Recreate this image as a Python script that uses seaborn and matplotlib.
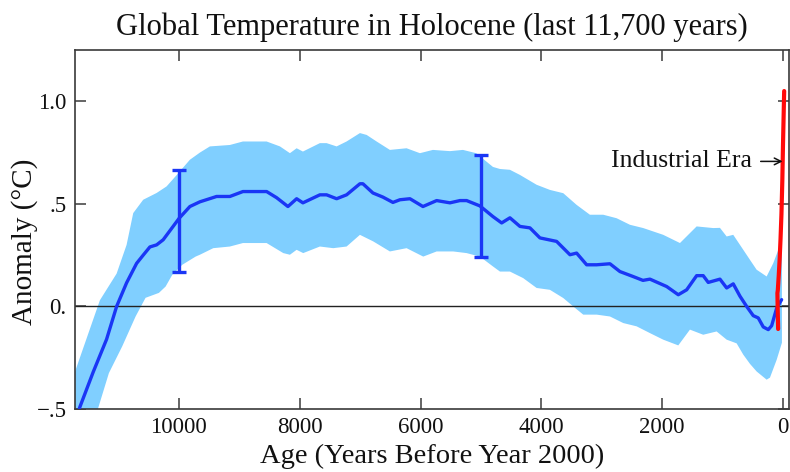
import numpy as np
import pandas as pd
import matplotlib
matplotlib.use("Agg")
import matplotlib.pyplot as plt
import seaborn as sns

# Mean Holocene temperature reconstruction (years before 2000, anomaly in °C)
mean_years = [11700, 11639, 11419, 11197, 11031, 10866, 10700, 10591, 10480, 10369,
              10260, 9995, 9818, 9652, 9376, 9156, 8940, 8548, 8382, 8195,
              8051, 7947, 7666, 7555, 7389, 7224, 7003, 6954, 6788, 6623,
              6457, 6341, 6175, 5960, 5733, 5513, 5348, 5237, 5017, 4801,
              4657, 4520, 4354, 4189, 4023, 3747, 3526, 3416, 3250, 3084,
              2864, 2699, 2483, 2318, 2202, 1925, 1733, 1594, 1429, 1320,
              1237, 1043, 932, 823, 712, 601, 492, 409, 326, 243,
              187, 104, 22]
mean_anom = [-0.55, -0.49, -0.32, -0.16, 0.00, 0.115, 0.21, 0.25, 0.29, 0.30,
             0.325, 0.43, 0.487, 0.51, 0.536, 0.536, 0.56, 0.56, 0.53, 0.487,
             0.525, 0.505, 0.544, 0.544, 0.525, 0.544, 0.598, 0.598, 0.553, 0.533,
             0.507, 0.52, 0.525, 0.487, 0.516, 0.505, 0.516, 0.516, 0.49, 0.438,
             0.407, 0.432, 0.39, 0.383, 0.334, 0.317, 0.252, 0.26, 0.203, 0.203,
             0.208, 0.17, 0.146, 0.127, 0.133, 0.097, 0.057, 0.081, 0.15, 0.15,
             0.117, 0.133, 0.09, 0.11, 0.05, 0.0, -0.045, -0.056, -0.10, -0.113,
             -0.094, -0.008, 0.033]

# Upper edge of the uncertainty envelope
upper_years = [11722, 11308, 11031, 10866, 10756, 10591, 10369, 10204, 10038, 9818,
               9652, 9487, 9156, 8940, 8548, 8327, 8162, 8051, 7947, 7666,
               7555, 7389, 7224, 7003, 6892, 6727, 6507, 6231, 6010, 5795,
               5513, 5298, 5078, 4801, 4685, 4520, 4354, 4078, 3858, 3637,
               3416, 3196, 2975, 2754, 2533, 2313, 1982, 1705, 1429, 1154,
               1043, 932, 823, 657, 546, 436, 270, 160, 77, 17]
upper_anom = [-0.32, 0.03, 0.16, 0.30, 0.455, 0.52, 0.553, 0.585, 0.64, 0.715,
              0.75, 0.78, 0.787, 0.804, 0.804, 0.78, 0.747, 0.771, 0.755, 0.796,
              0.796, 0.78, 0.804, 0.845, 0.836, 0.804, 0.763, 0.771, 0.747, 0.763,
              0.757, 0.763, 0.747, 0.68, 0.67, 0.666, 0.641, 0.593, 0.568, 0.552,
              0.495, 0.447, 0.447, 0.43, 0.398, 0.382, 0.349, 0.309, 0.39, 0.382,
              0.383, 0.341, 0.349, 0.276, 0.227, 0.179, 0.146, 0.211, 0.276, 0.30]

# Lower edge of the uncertainty envelope
lower_years = [11722, 11341, 11159, 10939, 10717, 10552, 10331, 10220, 10110, 9944,
               9723, 9652, 9431, 9156, 8940, 8548, 8272, 8162, 8051, 7942,
               7666, 7445, 7224, 7003, 6783, 6507, 6231, 5955, 5733, 5459,
               5237, 5017, 4801, 4685, 4520, 4300, 4078, 3858, 3637, 3472,
               3306, 3084, 2864, 2644, 2423, 2202, 1982, 1733, 1540, 1320,
               1098, 932, 767, 657, 546, 436, 270, 215, 104, 17]
lower_anom = [-0.80, -0.50, -0.325, -0.195, -0.049, 0.042, 0.066, 0.097, 0.154, 0.203,
              0.243, 0.252, 0.284, 0.292, 0.309, 0.309, 0.26, 0.252, 0.276, 0.26,
              0.292, 0.284, 0.292, 0.349, 0.317, 0.268, 0.284, 0.243, 0.268, 0.268,
              0.26, 0.243, 0.195, 0.17, 0.17, 0.138, 0.09, 0.081, 0.041, 0.0,
              -0.04, -0.04, -0.049, -0.081, -0.097, -0.13, -0.162, -0.19, -0.113, -0.138,
              -0.122, -0.162, -0.18, -0.235, -0.28, -0.317, -0.357, -0.347, -0.26, -0.177]

# Instrumental record of the industrial era
industrial_years = [80, 88, 92, 85, 70, 55, 40, 25, 10, 0, -20]
industrial_anom = [-0.11, 0.0, 0.065, 0.08, 0.15, 0.23, 0.33, 0.45, 0.62, 0.78, 1.05]

# Representative uncertainty bars
err_years = [10000, 5000]
err_center = [0.416, 0.49]
err_half = [0.25, 0.25]

x_ticks = [10000, 8000, 6000, 4000, 2000, 0]
y_ticks = [-0.5, 0.0, 0.5, 1.0]
y_tick_labels = ["\u2212.5", "0.", ".5", "1.0"]

sns.set_theme(style="ticks")
plt.rcParams["font.family"] = ["Liberation Serif", "DejaVu Serif"]

BAND = "#80CFFF"
BLUE = "#1A36F5"
RED = "#FF0A0A"
INK = "#3A3A3A"
TEXT = "#111111"

fig = plt.figure(figsize=(7.9, 4.72), dpi=100)
ax = fig.add_axes([75 / 790, 1 - 409 / 472, (789 - 75) / 790, (409 - 50) / 472])

# Envelope polygon: upper edge forward, lower edge back
env_x = np.concatenate([upper_years, lower_years[::-1]])
env_y = np.concatenate([upper_anom, lower_anom[::-1]])
ax.fill(env_x, env_y, color=BAND, linewidth=0, zorder=1)

ax.axhline(0, color="#222222", linewidth=1.0, zorder=2)

mean_df = pd.DataFrame({"age": mean_years, "anomaly": mean_anom})
sns.lineplot(data=mean_df, x="age", y="anomaly", color=BLUE, linewidth=2.4,
             sort=False, estimator=None, ax=ax, zorder=3)

ind_df = pd.DataFrame({"age": industrial_years, "anomaly": industrial_anom})
sns.lineplot(data=ind_df, x="age", y="anomaly", color=RED, linewidth=3.0,
             sort=False, estimator=None, ax=ax, zorder=4)

ax.errorbar(err_years, err_center, yerr=err_half, fmt="none", ecolor=BLUE,
            elinewidth=2.4, capsize=4.7, capthick=2.4, zorder=5)

# Label pointing at the start of the instrumental record
ax.annotate("Industrial Era", xy=(5, 0.707), xytext=(515, 0.707),
            ha="right", va="center", fontsize=18.5, color=TEXT, zorder=6,
            arrowprops=dict(arrowstyle="->", color=TEXT, lw=1.1,
                            shrinkA=4, shrinkB=0, mutation_scale=12))

ax.set_xlim(11720, -100)
ax.set_ylim(-0.5, 1.25)
ax.set_xticks(x_ticks)
ax.set_xticklabels([str(t) for t in x_ticks])
ax.set_yticks(y_ticks)
ax.set_yticklabels(y_tick_labels)

ax.tick_params(direction="in", top=True, right=True, length=8, width=1.1,
               color=INK, labelsize=16.5, labelcolor=TEXT, pad=6)
for side in ["left", "right", "top", "bottom"]:
    ax.spines[side].set_color(INK)
    ax.spines[side].set_linewidth(1.2)

ax.set_xlabel("Age (Years Before Year 2000)", fontsize=20.5, color=TEXT)
ax.xaxis.set_label_coords(0.5, -0.098)
ax.set_ylabel("Anomaly (\u00b0C)", fontsize=21, color=TEXT)
ax.yaxis.set_label_coords(-0.052, 0.465)
ax.set_title("Global Temperature in Holocene (last 11,700 years)", fontsize=22,
             color=TEXT, pad=11)

fig.savefig("out.png", dpi=100)
